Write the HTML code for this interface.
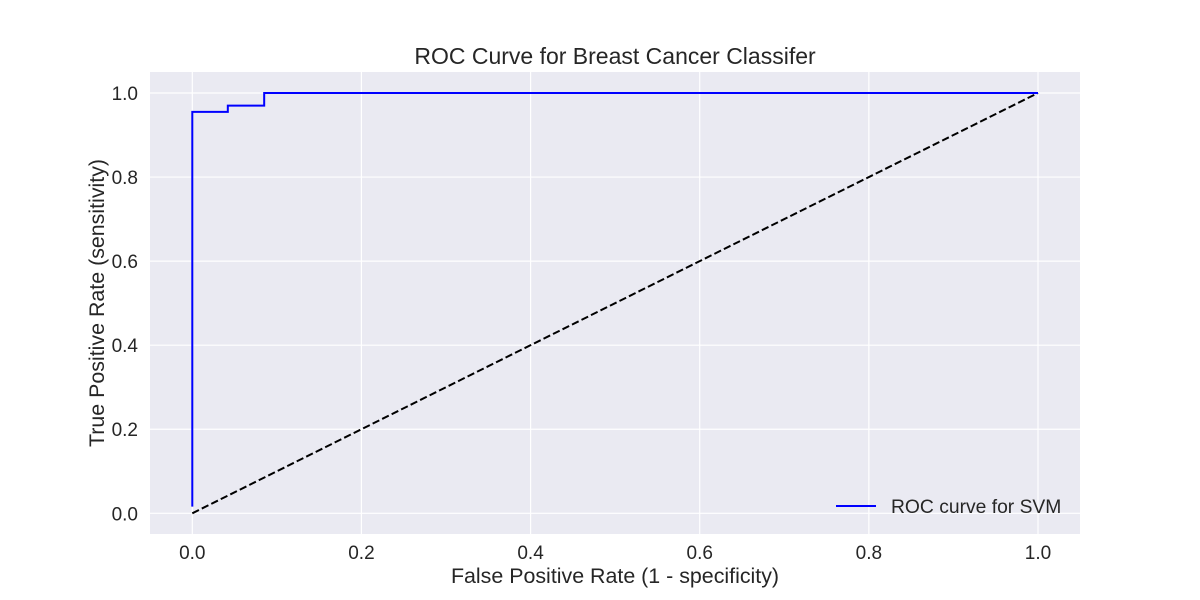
<!DOCTYPE html>
<html><head><meta charset="utf-8"><style>
body{margin:0;background:#fff;}
svg{display:block;font-family:"Liberation Sans",sans-serif;}
</style></head><body>
<svg id="chart" width="1200" height="600">
<rect x="150" y="72" width="930" height="462" fill="#eaeaf2"/>
<g id="grid"></g><g id="ticks"></g><g id="series"></g>
<text x="615" y="64" text-anchor="middle" font-size="23" fill="#262626">ROC Curve for Breast Cancer Classifer</text>
<text x="615" y="583" text-anchor="middle" font-size="21.4" fill="#262626">False Positive Rate (1 - specificity)</text>
<text transform="translate(104,303) rotate(-90)" text-anchor="middle" font-size="21.4" fill="#262626">True Positive Rate (sensitivity)</text>
<g>
<line x1="836" y1="506" x2="876" y2="506" stroke="#0000ff" stroke-width="2"/>
<text x="891" y="513" font-size="19.3" fill="#262626">ROC curve for SVM</text>
</g>
</svg>
<script>
const fpr=[0,0,0.042,0.042,0.085,0.085,1];
const tpr=[0.016,0.955,0.955,0.97,0.97,1,1];
const diagX=[0,1];
const diagY=[0,1];
const tickVals=[0,0.2,0.4,0.6,0.8,1.0];
const tickLabels=["0.0","0.2","0.4","0.6","0.8","1.0"];
const NS="http://www.w3.org/2000/svg";
const xs=v=>192.3+v*845.7;
const ys=v=>513.3-v*420.3;
function mk(t,a,p){const e=document.createElementNS(NS,t);for(const k in a)e.setAttribute(k,a[k]);p.appendChild(e);return e;}
const grid=document.getElementById('grid'),ticks=document.getElementById('ticks'),ser=document.getElementById('series');
tickVals.forEach((v,i)=>{
 const gx=mk('line',{x1:xs(v),x2:xs(v),y1:72,y2:534,stroke:'#fff','stroke-width':1.2},grid);
 
 
 const gy=mk('line',{x1:150,x2:1080,y1:ys(v),y2:ys(v),stroke:'#fff','stroke-width':1.2},grid);
 
 
 const tx=mk('text',{x:xs(v),y:559,'text-anchor':'middle','font-size':19,fill:'#262626'},ticks);
 tx.textContent=tickLabels[i];
 
 
 const ty=mk('text',{x:138,y:ys(v)+7,'text-anchor':'end','font-size':19,fill:'#262626'},ticks);
 ty.textContent=tickLabels[i];
 
 
});
const d=diagX.map((v,i)=>(i?'L':'M')+xs(v)+','+ys(diagY[i])).join(' ');
const dl=mk('path',{d:d,fill:'none',stroke:'#000','stroke-width':2,'stroke-dasharray':'7.4,3.2'},ser);


const r=fpr.map((v,i)=>(i?'L':'M')+xs(v)+','+ys(tpr[i])).join(' ');
const rl=mk('path',{d:r,fill:'none',stroke:'#0000ff','stroke-width':2},ser);


</script>
</body></html>
